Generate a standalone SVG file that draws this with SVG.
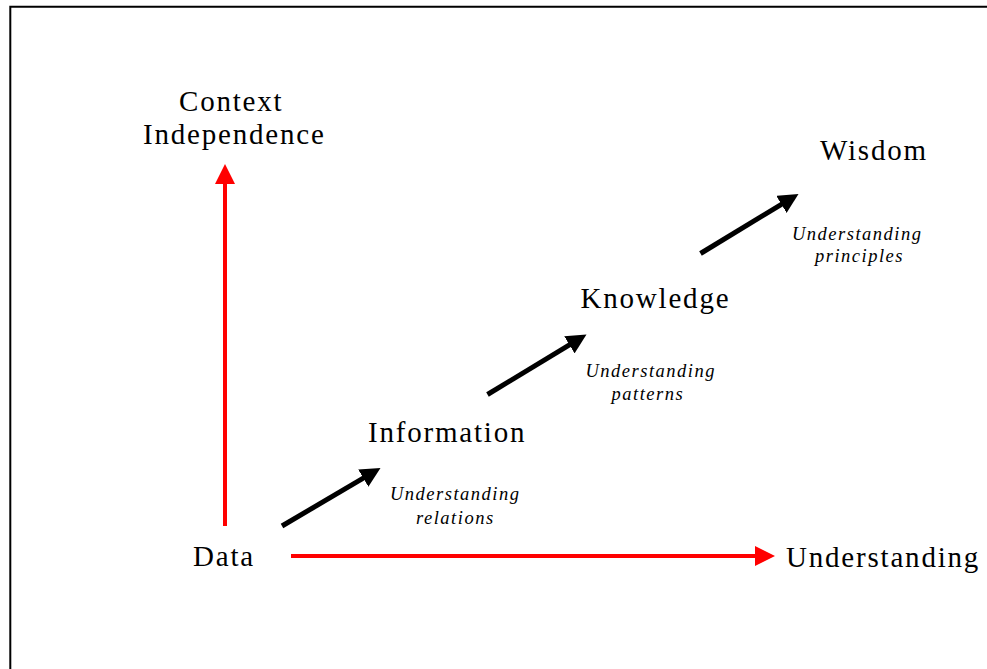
<svg xmlns="http://www.w3.org/2000/svg" width="987" height="669" viewBox="0 0 987 669">
<style>
.lbl{font-family:"Liberation Serif","Times New Roman",serif;font-size:29px;letter-spacing:1.8px;fill:#000}
.sub{font-family:"Liberation Serif","Times New Roman",serif;font-size:18.5px;font-style:italic;letter-spacing:1.5px;fill:#000}
.red{stroke:#ff0000;stroke-width:4;fill:none}
.blk{stroke:#000;stroke-width:5;fill:none}
</style>
<defs>
<marker id="hr" markerUnits="userSpaceOnUse" markerWidth="20" markerHeight="20" refX="2" refY="10" orient="auto" viewBox="0 0 20 20"><path d="M0,0 L20,10 L0,20 z" fill="#ff0000"/></marker>
<marker id="hb" markerUnits="userSpaceOnUse" markerWidth="20" markerHeight="20" refX="2" refY="10" orient="auto" viewBox="0 0 20 20"><path d="M0,0 L20,10 L0,20 z" fill="#000"/></marker>
</defs>
<rect width="987" height="669" fill="#fff"/>
<path d="M10.3,669 L10.3,6.8 L987,6.8" stroke="#000" stroke-width="2" fill="none"/>
<g id="connectors">
<line class="red" x1="225" y1="526" x2="225" y2="182" marker-end="url(#hr)"/>
<line class="red" x1="291" y1="556" x2="757" y2="556" marker-end="url(#hr)"/>
<line class="blk" x1="282" y1="526" x2="365" y2="477.1" marker-end="url(#hb)"/>
<line class="blk" x1="487.5" y1="394.5" x2="571.1" y2="343.8" marker-end="url(#hb)"/>
<line class="blk" x1="700.5" y1="253.5" x2="783.1" y2="203.3" marker-end="url(#hb)"/>
</g>
<g id="context-independence">
<text class="lbl" x="179" y="110.5">Context</text>
<text class="lbl" x="143" y="144">Independence</text>
</g>
<g id="data"><text class="lbl" x="193" y="566">Data</text></g>
<g id="understanding"><text class="lbl" x="786" y="566.5">Understanding</text></g>
<g id="information"><text class="lbl" x="368" y="442.3">Information</text></g>
<g id="knowledge"><text class="lbl" x="580.5" y="307.5">Knowledge</text></g>
<g id="wisdom"><text class="lbl" x="820" y="160">Wisdom</text></g>
<g id="label-relations">
<text class="sub" x="390" y="500">Understanding</text>
<text class="sub" x="416" y="523.5">relations</text>
</g>
<g id="label-patterns">
<text class="sub" x="585.5" y="376.5">Understanding</text>
<text class="sub" x="611.5" y="400">patterns</text>
</g>
<g id="label-principles">
<text class="sub" x="792" y="240">Understanding</text>
<text class="sub" x="815" y="262">principles</text>
</g>
</svg>
